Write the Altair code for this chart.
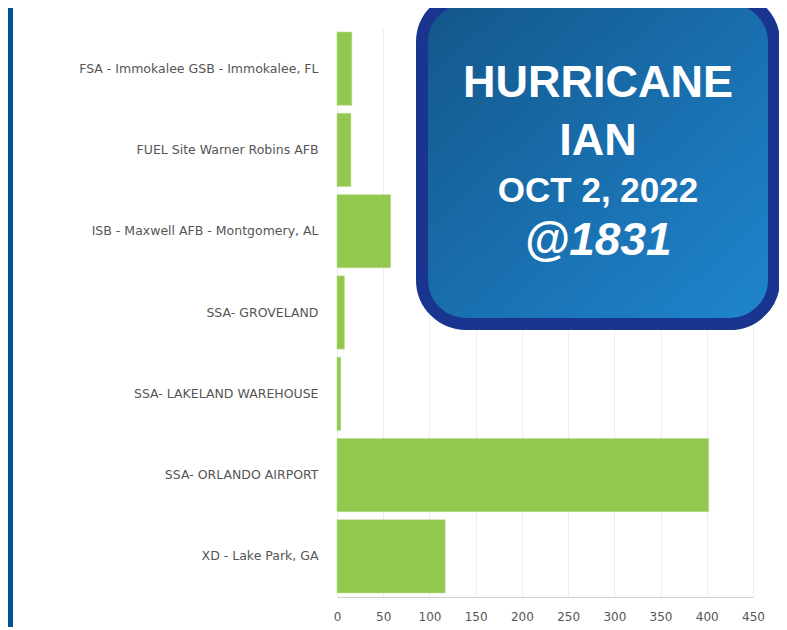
import altair as alt
import pandas as pd

categories = [
    "FSA - Immokalee GSB - Immokalee, FL",
    "FUEL Site Warner Robins AFB",
    "ISB - Maxwell AFB - Montgomery, AL",
    "SSA- GROVELAND",
    "SSA- LAKELAND WAREHOUSE",
    "SSA- ORLANDO AIRPORT",
    "XD - Lake Park, GA",
]
values = [16, 15, 58, 8, 4, 402, 117]
x_ticks = [0, 50, 100, 150, 200, 250, 300, 350, 400, 450]

title_lines = ["HURRICANE", "IAN", "OCT 2, 2022", "@1831"]

df = pd.DataFrame({"site": categories, "value": values})

W, H = 416, 569

bars = alt.Chart(df).mark_bar(color="#92c84e", stroke="#b5dc88", strokeWidth=0.6).encode(
    y=alt.Y("site:N", sort=categories, title=None,
            scale=alt.Scale(paddingInner=0.1, paddingOuter=0.05),
            axis=alt.Axis(domain=False, ticks=False, labelPadding=19,
                          labelFont="DejaVu Sans", labelFontSize=12.5,
                          labelColor="#555555", labelLimit=400)),
    x=alt.X("value:Q", title=None,
            scale=alt.Scale(domain=[0, 450], nice=False),
            axis=alt.Axis(values=x_ticks, domain=True, domainColor="#cfcfcf",
                          ticks=False, labelPadding=14, grid=True, labelFlush=False,
                          gridColor="#eeeeee", labelFont="DejaVu Sans",
                          labelFontSize=12, labelColor="#555555")),
)

one = pd.DataFrame({"k": [0]})

stripe = alt.Chart(one).mark_rect(color="#00558f").encode(
    x=alt.value(-329), x2=alt.value(-324), y=alt.value(-20), y2=alt.value(H + 30)
)

box = alt.Chart(one).mark_rect(
    cornerRadius=44,
    fill=alt.Gradient(
        gradient="linear",
        stops=[alt.GradientStop(color="#13568a", offset=0),
               alt.GradientStop(color="#1f86cf", offset=1)],
        x1=0, y1=0, x2=1, y2=1),
    stroke="#1a3590", strokeWidth=12,
).encode(
    x=alt.value(85), x2=alt.value(437), y=alt.value(-30), y2=alt.value(296)
)


def line(i, size, ypos, style="normal"):
    return alt.Chart(pd.DataFrame({"t": [title_lines[i]]})).mark_text(
        font="Liberation Sans", fontWeight="bold", fontStyle=style,
        fontSize=size, color="white", align="center", baseline="alphabetic"
    ).encode(text="t:N", x=alt.value(261), y=alt.value(ypos))


texts = [line(0, 45, 69), line(1, 45, 127), line(2, 35, 174), line(3, 46, 227, "italic")]

chart = alt.layer(bars, stripe, box, *texts).properties(
    width=W, height=H,
    autosize=alt.AutoSizeParams(type="none"),
    padding={"left": 329, "top": 20, "right": 26, "bottom": 31},
).configure_view(stroke=None)

chart.save("out.html", embed_options={"renderer": "svg", "actions": False})
